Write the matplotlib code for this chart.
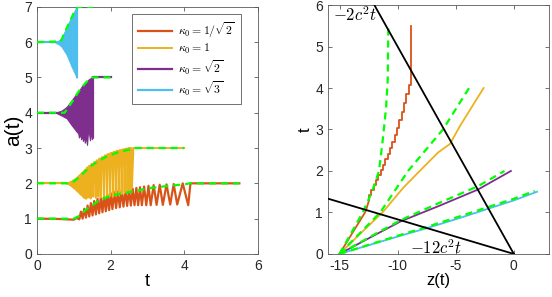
import matplotlib
matplotlib.use("Agg")
import matplotlib.pyplot as plt
import numpy as np

plt.rcParams['font.family'] = ['Liberation Sans', 'DejaVu Sans']
plt.rcParams['mathtext.fontset'] = 'cm'
plt.rcParams['axes.unicode_minus'] = False

# MATLAB default colours
RED = '#D95319'
YEL = '#EDB120'
PUR = '#7E2F8E'
CYA = '#4DBEEE'
GRN = '#00FF00'

labels = [r'$\kappa_0=1/\sqrt{2}$', r'$\kappa_0=1$', r'$\kappa_0=\sqrt{2}$', r'$\kappa_0=\sqrt{3}$']

# ---------------- left panel: a(t) ----------------
# kappa0 = sqrt(3): dense band drawn as envelopes
cya_pre_t = [0, 0.5]
cya_pre_a = [6.0, 6.0]
cya_band_t = [0.50, 0.58, 0.67, 0.81, 0.94, 1.08]
cya_upper = [6.02, 6.04, 6.11, 6.44, 6.72, 7.0]
cya_lower = [5.98, 5.95, 5.87, 5.64, 5.31, 5.0]
cya_post_t = [1.08, 1.08, 1.53]
cya_post_a = [5.0, 7.0, 7.0]
cya_dash_t = [0, 0.65, 0.72, 0.9, 1.0, 1.1, 1.53]
cya_dash_a = [6.0, 6.02, 6.2, 6.6, 6.83, 7.0, 7.0]

# kappa0 = sqrt(2): band with spikes on the lower side
pur_pre_t = [0, 0.55]
pur_pre_a = [4.0, 4.0]
pur_band_t = [0.55, 0.67, 0.81, 0.94, 1.08, 1.12, 1.14, 1.17, 1.20, 1.22, 1.25, 1.28, 1.30,
              1.33, 1.36, 1.38, 1.41, 1.44, 1.46, 1.49, 1.52]
pur_upper = [4.02, 4.06, 4.17, 4.35, 4.55, 4.60, 4.63, 4.67, 4.72, 4.75, 4.79, 4.83, 4.85,
             4.88, 4.90, 4.92, 4.95, 4.97, 4.98, 4.99, 5.0]
pur_lower = [3.98, 3.92, 3.84, 3.65, 3.46, 3.42, 3.30, 3.40, 3.25, 3.38, 3.20, 3.35, 3.15,
             3.32, 3.09, 3.38, 3.45, 3.22, 3.50, 3.25, 3.30]
pur_post_t = [1.52, 1.52, 2.0]
pur_post_a = [3.3, 5.0, 5.0]
pur_dash_t = [0, 0.75, 0.85, 1.0, 1.1, 1.2, 1.3, 1.4, 1.5, 2.0]
pur_dash_a = [4.0, 4.0, 4.15, 4.38, 4.55, 4.7, 4.82, 4.93, 5.0, 5.0]

# kappa0 = 1: troughs, and the two shoulders of each crest between them
yel_pre_t = [0, 0.8]
yel_pre_a = [2.0, 2.0]
yel_trough_t = [0.85, 0.89, 0.93, 0.97, 1.01, 1.05, 1.09, 1.13, 1.17, 1.21, 1.25, 1.29, 1.34, 1.40,
                1.46, 1.53, 1.60, 1.67, 1.74, 1.82, 1.90, 1.98, 2.06, 2.14, 2.22, 2.30, 2.38, 2.46,
                2.53, 2.58]
yel_trough_a = [1.98, 1.95, 1.92, 1.89, 1.86, 1.82, 1.78, 1.74, 1.70, 1.66, 1.62, 1.58, 1.56, 1.60,
                1.57, 1.62, 1.59, 1.62, 1.60, 1.63, 1.61, 1.64, 1.62, 1.66, 1.68, 1.70, 1.73, 1.76,
                1.80, 1.87]
yel_crest_t0 = [0.87, 0.91, 0.95, 0.99, 1.03, 1.07, 1.11, 1.15, 1.19, 1.23, 1.27, 1.31, 1.36, 1.42,
                1.48, 1.55, 1.62, 1.69, 1.76, 1.84, 1.92, 2.00, 2.08, 2.16, 2.24, 2.32, 2.40,
                2.48, 2.545]
yel_crest_t1 = [0.87, 0.91, 0.95, 0.99, 1.03, 1.07, 1.11, 1.15, 1.19, 1.23, 1.27, 1.32, 1.38, 1.44,
                1.51, 1.58, 1.65, 1.72, 1.80, 1.88, 1.96, 2.04, 2.12, 2.20, 2.28, 2.36, 2.44,
                2.51, 2.565]
yel_crest_a = [2.02, 2.04, 2.06, 2.09, 2.11, 2.14, 2.18, 2.22, 2.26, 2.30, 2.34, 2.39, 2.45, 2.50,
               2.55, 2.60, 2.65, 2.70, 2.74, 2.79, 2.83, 2.86, 2.89, 2.92, 2.94, 2.96, 2.98, 3.0, 3.0]
yel_post_t = [2.62, 4.0]
yel_post_a = [3.0, 3.0]
yel_dash_t = [0, 0.85, 1.0, 1.12, 1.3, 1.44, 1.65, 1.89, 2.1, 2.26, 2.45, 2.57, 2.65, 4.0]
yel_dash_a = [2.0, 2.0, 2.05, 2.15, 2.33, 2.47, 2.62, 2.76, 2.84, 2.9, 2.94, 2.96, 3.0, 3.0]

# kappa0 = 1/sqrt(2)
red_pre_t = [0, 0.6, 1.0, 1.08]
red_pre_a = [1.0, 0.99, 0.97, 1.02]
red_trough_t = [1.15, 1.24, 1.33, 1.42, 1.51, 1.60, 1.69, 1.78, 1.87, 1.96, 2.05, 2.15, 2.25, 2.35,
                2.45, 2.55, 2.65, 2.75, 2.85, 2.97, 3.09, 3.25, 3.42, 3.62, 3.81, 4.11]
red_trough_a = [0.98, 1.00, 1.03, 1.06, 1.09, 1.12, 1.15, 1.18, 1.21, 1.24, 1.27, 1.30, 1.32, 1.34,
                1.36, 1.37, 1.38, 1.38, 1.38, 1.38, 1.38, 1.39, 1.39, 1.40, 1.40, 1.38]
red_peak_t = [1.195, 1.285, 1.375, 1.465, 1.555, 1.645, 1.735, 1.825, 1.915, 2.005, 2.10, 2.20,
              2.30, 2.40, 2.50, 2.60, 2.70, 2.80, 2.91, 3.03, 3.17, 3.335, 3.52, 3.715, 3.96]
red_peak_a = [1.20, 1.28, 1.37, 1.44, 1.50, 1.56, 1.61, 1.65, 1.68, 1.72, 1.75, 1.77, 1.79, 1.81,
              1.83, 1.85, 1.87, 1.89, 1.91, 1.93, 1.95, 1.96, 1.97, 1.98, 2.0]
red_post_t = [4.17, 5.5]
red_post_a = [2.0, 2.0]
red_dash_t = [0, 1.0, 1.12, 1.35, 1.71, 2.07, 2.71, 3.03, 3.5, 4.0, 4.15, 5.5]
red_dash_a = [1.0, 1.0, 1.06, 1.27, 1.53, 1.67, 1.79, 1.86, 1.92, 1.97, 2.0, 2.0]

# ---------------- right panel: trajectories z(t) ----------------
red_z_t = [0.0, 1.02, 1.30]
red_z = [-15.0, -12.76, -12.45]
red_stair_z = [-12.45, -12.25, -12.05, -11.85, -11.65, -11.45, -11.25, -11.05, -10.85, -10.65,
               -10.45, -10.25, -10.05, -9.85, -9.65, -9.45, -9.25, -9.05, -8.85, -8.85]
red_stair_t = [1.30, 1.42, 1.54, 1.66, 1.78, 1.90, 2.02, 2.15, 2.28, 2.42,
               2.56, 2.71, 2.87, 3.04, 3.22, 3.42, 3.63, 3.86, 4.08, 5.5]
red_zd = [-15.0, -13.0, -12.2, -11.6, -11.3, -11.0, -10.85, -10.8]
red_zd_t = [0.0, 1.0, 1.5, 2.0, 2.7, 3.5, 4.2, 5.5]

yel_z = [-15.0, -13.1, -11.3, -9.5, -8.1, -6.5, -5.5, -4.6, -3.6, -2.6]
yel_z_t = [0.0, 0.52, 1.0, 1.6, 2.0, 2.45, 2.65, 3.1, 3.55, 4.0]
yel_zd = [-15.0, -11.5, -9.1, -6.1, -3.85]
yel_zd_t = [0.0, 1.0, 2.0, 3.0, 4.0]

pur_z = [-15.0, -12.0, -9.7, -6.5, -3.1, -0.25]
pur_z_t = [0.0, 0.45, 0.79, 1.15, 1.55, 2.0]
pur_zd = [-15.0, -12.0, -9.7, -6.5, -3.1, -0.8]
pur_zd_t = [0.0, 0.47, 0.82, 1.22, 1.63, 2.0]

cya_z = [-15.0, -9.74, -7.5, -4.5, -2.1, 0.0, 2.0]
cya_z_t = [0.0, 0.44, 0.62, 0.88, 1.1, 1.29, 1.5]
cya_zd = [-15.0, -9.74, -7.5, -4.5, -2.1, 0.0, 1.8]
cya_zd_t = [0.0, 0.46, 0.65, 0.92, 1.14, 1.33, 1.52]

# black reference lines z = -2 c^2 t and z = -12 c^2 t (c = 1)
ref1_z = [0.0, -12.0]
ref1_t = [0.0, 6.0]
ref2_z = [0.0, -16.0]
ref2_t = [0.0, 16.0 / 12.0]


def oscillation(tt, aa, c0, c1, ca):
    # trough, crest start, crest end, trough, ...
    t, a = [], []
    for i in range(len(tt)):
        t.append(tt[i]); a.append(aa[i])
        if i < len(c0):
            t += [c0[i], c1[i]]
            a += [ca[i], ca[i]]
    return np.array(t), np.array(a)


def style_axes(ax):
    for s in ax.spines.values():
        s.set_color('0.35')
        s.set_linewidth(0.6)
    ax.tick_params(direction='in', top=True, right=True, length=3, width=0.6,
                   colors='0.35', labelcolor='0.15', labelsize=10)


fig = plt.figure(figsize=(5.52, 2.97), dpi=100)
ax1 = fig.add_axes([0.067, 0.145, 0.400, 0.832])
ax2 = fig.add_axes([0.594, 0.145, 0.400, 0.838])

lw = 1.6
dash = dict(color=GRN, lw=1.6, ls=(0, (3.2, 2.2)), zorder=5)

# left panel
ax1.plot(red_pre_t, red_pre_a, color=RED, lw=lw)
t, a = oscillation(red_trough_t, red_trough_a, red_peak_t, red_peak_t, red_peak_a)
ax1.plot(np.r_[red_pre_t[-1], t, red_post_t], np.r_[red_pre_a[-1], a, red_post_a],
         color=RED, lw=lw, label=labels[0])

ax1.plot(yel_pre_t, yel_pre_a, color=YEL, lw=lw)
t, a = oscillation(yel_trough_t, yel_trough_a, yel_crest_t0, yel_crest_t1, yel_crest_a)
ax1.plot(np.r_[yel_pre_t[-1], t, yel_post_t], np.r_[yel_pre_a[-1], a, yel_post_a],
         color=YEL, lw=1.4, label=labels[1])

ax1.plot(pur_pre_t, pur_pre_a, color=PUR, lw=lw, label=labels[2])
ax1.fill_between(pur_band_t, pur_lower, pur_upper, color=PUR, lw=0.8, edgecolor=PUR)
ax1.plot(pur_post_t, pur_post_a, color=PUR, lw=lw)

ax1.plot(cya_pre_t, cya_pre_a, color=CYA, lw=lw, label=labels[3])
ax1.fill_between(cya_band_t, cya_lower, cya_upper, color=CYA, lw=0.8, edgecolor=CYA)
ax1.plot(cya_post_t, cya_post_a, color=CYA, lw=lw)

ax1.plot(red_dash_t, red_dash_a, **dash)
ax1.plot(yel_dash_t, yel_dash_a, **dash)
ax1.plot(pur_dash_t, pur_dash_a, **dash)
ax1.plot(cya_dash_t, cya_dash_a, **dash)

ax1.set_xlim(0, 6)
ax1.set_ylim(0, 7)
ax1.set_xticks([0, 2, 4, 6])
ax1.set_yticks(range(8))
ax1.set_xlabel('t', fontsize=13, labelpad=0)
ax1.set_ylabel('a(t)', fontsize=15, labelpad=1)
style_axes(ax1)
leg = ax1.legend(loc='upper right', fontsize=8.5, handlelength=2.9, labelspacing=0.18,
                 borderpad=0.5, handletextpad=0.5, fancybox=False, framealpha=1,
                 edgecolor='0.35', bbox_to_anchor=(0.95, 0.993))
leg.get_frame().set_linewidth(0.6)

# right panel
ax2.plot(red_z, red_z_t, color=RED, lw=1.3)
ax2.plot(red_stair_z, red_stair_t, color=RED, lw=1.3, drawstyle='steps-pre')
ax2.plot(yel_z, yel_z_t, color=YEL, lw=1.3)
ax2.plot(pur_z, pur_z_t, color=PUR, lw=1.3)
ax2.plot(cya_z, cya_z_t, color=CYA, lw=1.3)
for zz, tt in [(red_zd, red_zd_t), (yel_zd, yel_zd_t), (pur_zd, pur_zd_t), (cya_zd, cya_zd_t)]:
    ax2.plot(zz, tt, **dash)
ax2.plot(ref1_z, ref1_t, color='k', lw=1.3, zorder=6)
ax2.plot(ref2_z, ref2_t, color='k', lw=1.3, zorder=6)
ax2.text(-15.6, 5.76, r'$-2c^2t$', fontsize=12, va='center', ha='left')
ax2.text(-8.9, 0.15, r'$-12c^2t$', fontsize=12, va='center', ha='left')

ax2.set_xlim(-16, 3)
ax2.set_ylim(0, 6)
ax2.set_xticks([-15, -10, -5, 0])
ax2.set_yticks(range(7))
ax2.set_xlabel('z(t)', fontsize=12, labelpad=0)
ax2.set_ylabel('t', fontsize=12, labelpad=2)
style_axes(ax2)

fig.savefig('out.png', dpi=100)
